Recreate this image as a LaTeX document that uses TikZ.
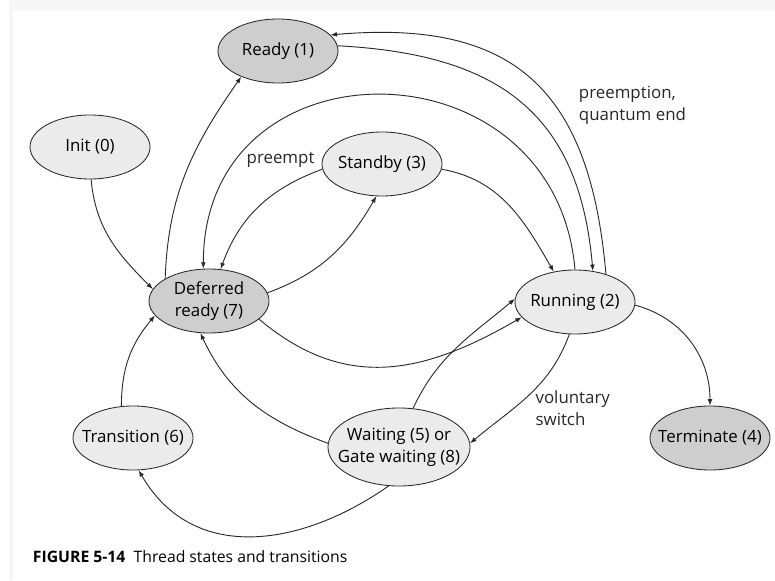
\documentclass[tikz,border=0pt]{standalone}
\usepackage{fontspec}
\setmainfont{Open Sans}
\usetikzlibrary{shapes.geometric, arrows.meta}
\definecolor{frame}{RGB}{246, 246, 246}
\definecolor{lightstate}{RGB}{235, 235, 235}
\definecolor{darkstate}{RGB}{206, 206, 206}
\definecolor{edgegray}{RGB}{40, 40, 40}

\begin{document}
\begin{tikzpicture}[
        x=0.025cm, y=0.025cm,
        every node/.style={font=\fontsize{12}{15.5}\selectfont},
        state/.style={ellipse, draw=edgegray, line width=0.6pt, fill=lightstate, align=center, inner xsep=-3mm, inner ysep=0pt, minimum width=3cm, minimum height=1.6cm},
        busy/.style={state, fill=darkstate},
        trans/.style={-{Latex[length=1.6mm, width=1.2mm]}, line width=0.65pt, edgegray},
        lbl/.style={align=left, inner sep=1pt}
    ]
        % page frame
        \fill[frame] (9,0) rectangle (13,580);
        \fill[frame] (9,570) rectangle (775,580);
        \useasboundingbox (0,0) rectangle (775,580);

        \node[busy] (ready) at (278,529) {Ready (1)};
        \node[state] (init) at (90,433) {Init (0)};
        \node[state] (standby) at (382,416) {Standby (3)};
        \node[busy] (deferred) at (209,279) {Deferred\\ready (7)};
        \node[state] (running) at (575,278) {Running (2)};
        \node[state] (transition) at (133,142) {Transition (6)};
        \node[state, minimum width=3.55cm, minimum height=1.95cm] (waiting) at (399,133) {Waiting (5) or\\Gate waiting (8)};
        \node[busy] (terminate) at (710,142) {Terminate (4)};

        \draw[trans] (init.-88) to[out=-85, in=135] (deferred.168);
        \draw[trans] (deferred.153) to[out=88, in=-125] (ready.215);
        \draw[trans] (ready.5) to[out=-3, in=95, looseness=1.2] (running.60);
        \draw[trans] (running.42) to[out=95, in=5, looseness=1.3]
            node[lbl, pos=0.4, anchor=west, xshift=5.5mm] (quantum) {preemption,\\quantum end} (ready.17);
        \draw[trans] (running.90) to[out=95, in=90, looseness=1.6] (deferred.100);
        \draw[trans] (standby.185) to[out=200, in=70]
            node[lbl, pos=0, anchor=south east, xshift=-1.5mm] (preempt) {preempt} (deferred.70);
        \draw[trans] (deferred.8) to[out=20, in=-120] (standby.-100);
        \draw[trans] (standby.-5) to[out=-10, in=120] (running.125);
        \draw[trans] (deferred.-20) to[out=-40, in=210, looseness=1.1] (running.196);
        \draw[trans] (waiting.70) to[out=65, in=220] (running.177);
        \draw[trans] (running.-100) to[out=-110, in=40]
            node[lbl, pos=0.55, anchor=west, xshift=2.5mm, yshift=-2mm] (voluntary) {voluntary\\switch} (waiting.3);
        \draw[trans] (waiting.177) to[out=160, in=-65] (deferred.-105);
        \draw[trans] (waiting.-105) to[out=-145, in=-60, looseness=1.1] (transition.-80);
        \draw[trans] (transition.110) to[out=90, in=-130] (deferred.195);
        \draw[trans] (running.-3) to[out=-15, in=90] (terminate.90);

        \node[anchor=west, font=\fontsize{11.2}{13}\selectfont] (caption) at (28,23) {\textbf{FIGURE 5-14}\ \ Thread states and transitions};
    \end{tikzpicture}
\end{document}
